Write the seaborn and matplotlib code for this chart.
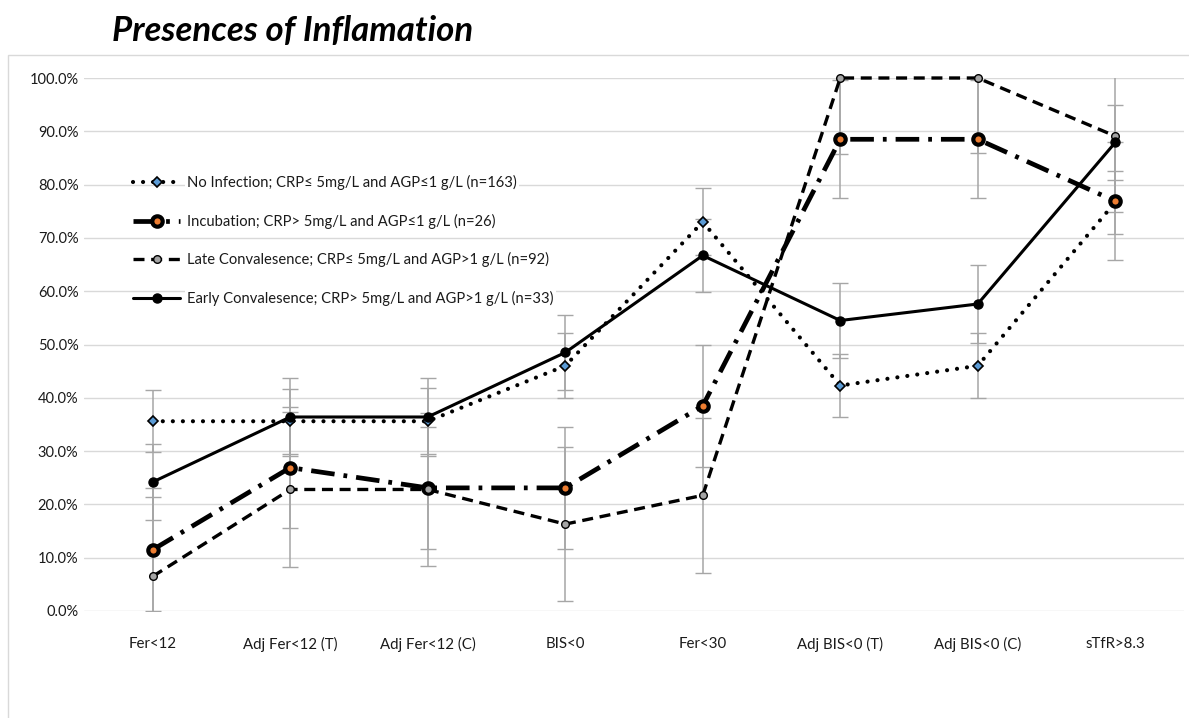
import matplotlib
matplotlib.use("Agg")
import matplotlib.pyplot as plt
import matplotlib.patches as mpatches
from matplotlib.ticker import FuncFormatter, MultipleLocator
import pandas as pd
import seaborn as sns

# Indicator labels along the x axis
categories = ["Fer<12", "Adj Fer<12 (T)", "Adj Fer<12 (C)", "BIS<0",
              "Fer<30", "Adj BIS<0 (T)", "Adj BIS<0 (C)", "sTfR>8.3"]

# Prevalence (%) per inflammation group
no_infection = [35.6, 35.6, 35.6, 46.0, 73.0, 42.3, 46.0, 76.7]
incubation = [11.5, 26.9, 23.1, 23.1, 38.5, 88.5, 88.5, 76.9]
late_conv = [6.5, 22.8, 22.8, 16.3, 21.7, 100.0, 100.0, 89.1]
early_conv = [24.2, 36.4, 36.4, 48.5, 66.7, 54.5, 57.6, 87.9]

# Error half-widths (%)
no_infection_err = [5.8, 6.1, 6.2, 6.1, 6.3, 5.9, 6.1, 5.9]
incubation_err = [11.5, 11.4, 11.5, 11.4, 11.4, 11.1, 11.1, 11.0]
late_conv_err = [14.8, 14.6, 14.3, 14.4, 14.6, 14.3, 14.1, 14.2]
early_conv_err = [7.1, 7.4, 7.4, 7.1, 6.8, 7.0, 7.3, 7.1]

labels = [
    "No Infection; CRP\u2264 5mg/L and AGP\u22641 g/L (n=163)",
    "Incubation; CRP> 5mg/L and AGP\u22641 g/L (n=26)",
    "Late Convalesence; CRP\u2264 5mg/L and AGP>1 g/L (n=92)",
    "Early Convalesence; CRP> 5mg/L and AGP>1 g/L (n=33)",
]

sns.set_theme(style="white")
plt.rcParams["font.family"] = ["Lato", "DejaVu Sans"]

fig = plt.figure(figsize=(11.89, 7.18), dpi=100)
ax = fig.add_axes([84 / 1189, 1 - 611 / 718, 1100 / 1189, 533 / 718])

series = [
    dict(values=no_infection, err=no_infection_err, label=labels[0],
         ls=(0, (0.01, 2.4)), lw=3.0, capstyle="round",
         marker="D", ms=5, mfc="#5B9BD5", mec="black", mew=1.2),
    dict(values=incubation, err=incubation_err, label=labels[1],
         ls=(0, (5, 1.9, 0.8, 1.9)), lw=3.4, capstyle="butt",
         marker="o", ms=7.5, mfc="#ED7D31", mec="black", mew=3.0),
    dict(values=late_conv, err=late_conv_err, label=labels[2],
         ls=(0, (3.3, 2.0)), lw=2.4, capstyle="butt",
         marker="o", ms=5.5, mfc="#A5A5A5", mec="black", mew=1.0),
    dict(values=early_conv, err=early_conv_err, label=labels[3],
         ls="-", lw=2.2, capstyle="butt",
         marker="o", ms=6.5, mfc="black", mec="black", mew=1.0),
]

for i, s in enumerate(series):
    df = pd.DataFrame({"indicator": categories, "pct": s["values"]})
    ax.errorbar(categories, s["values"], yerr=s["err"], fmt="none",
                ecolor="#a6a6a6", elinewidth=1.1, capsize=6, capthick=1.0,
                zorder=1.5 + i * 0.01)
    sns.lineplot(data=df, x="indicator", y="pct", sort=False, ax=ax,
                 color="black", linestyle=s["ls"], linewidth=s["lw"],
                 dash_capstyle=s["capstyle"], marker=s["marker"],
                 markersize=s["ms"], markerfacecolor=s["mfc"],
                 markeredgecolor=s["mec"], markeredgewidth=s["mew"],
                 label=s["label"], zorder=3 + i, clip_on=False)

ax.set_xlim(-0.5, len(categories) - 0.5)
ax.set_ylim(0, 100)
ax.yaxis.set_major_locator(MultipleLocator(10))
ax.yaxis.set_major_formatter(FuncFormatter(lambda v, _: f"{v:.1f}%"))
ax.grid(axis="y", color="#d9d9d9", linewidth=1.0, zorder=0)
ax.set_axisbelow(True)
for side in ["top", "right", "left", "bottom"]:
    ax.spines[side].set_visible(False)
ax.set_xlabel("")
ax.set_ylabel("")
ax.tick_params(axis="x", length=0, pad=19, labelsize=10.8, colors="#1a1a1a")
ax.tick_params(axis="y", length=0, pad=4, labelsize=10.5, colors="#1a1a1a")

leg = ax.legend(loc="center left", bbox_to_anchor=(0.0445, 0.695),
                frameon=False, fontsize=10.6, handlelength=3.2,
                handletextpad=0.5, labelspacing=1.6, borderpad=0,
                borderaxespad=0)
for t in leg.get_texts():
    t.set_color("#1a1a1a")
    t.set_bbox(dict(facecolor="white", edgecolor="none", pad=1.5))

# Chart frame and title
fig.patches.append(mpatches.Rectangle((8 / 1189, -0.05), 1.2, 1 - 55 / 718 + 0.05,
                                      transform=fig.transFigure, fill=False,
                                      edgecolor="#d9d9d9", linewidth=1.0))
fig.text(112 / 1189, 1 - 31 / 718, "Presences of Inflamation",
         fontsize=25, fontweight="bold", fontstyle="italic",
         ha="left", va="center", color="black")

fig.savefig("out.png", dpi=100)
